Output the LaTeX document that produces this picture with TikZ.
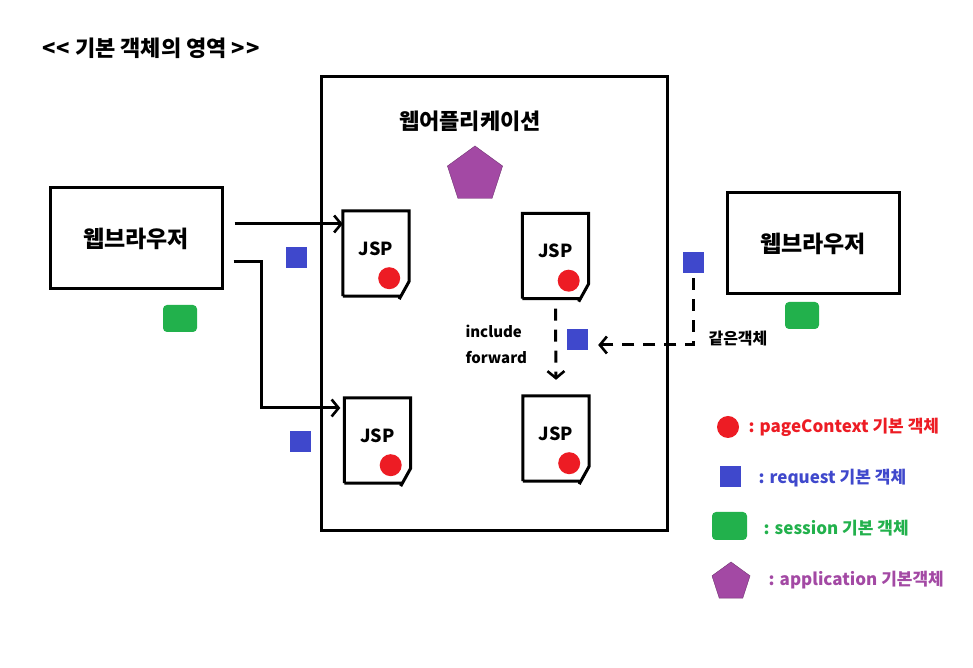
\documentclass[tikz,border=0pt]{standalone}
\usepackage{fontspec}
\setmainfont{Noto Sans CJK KR}
\usetikzlibrary{arrows.meta,shapes.geometric,positioning}
\definecolor{ctxred}{HTML}{ED1C24}
\definecolor{reqblue}{HTML}{3F48CC}
\definecolor{sesgreen}{HTML}{22B14C}
\definecolor{apppurple}{HTML}{A349A4}
\tikzset{
  frame/.style={draw, line width=3pt},
  browser/.style={frame, minimum width=172pt, minimum height=101pt,
    font=\fontsize{23}{26}\selectfont\bfseries},
  jspdoc/.style={minimum width=66pt, minimum height=85pt, inner sep=0pt},
  jsplabel/.style={font=\fontsize{18}{20}\selectfont\bfseries, yshift=5pt},
  reqobj/.style={fill=reqblue, minimum size=21pt, inner sep=0pt},
  sesobj/.style={fill=sesgreen, rounded corners=4pt, minimum width=34pt,
    minimum height=27pt, inner sep=0pt},
  appobj/.style={regular polygon, regular polygon sides=5, fill=apppurple,
    draw=apppurple!70!black, minimum size=58pt, inner sep=0pt},
  ctxobj/.style={circle, fill=ctxred, minimum size=22pt, inner sep=0pt},
  flow/.style={line width=3pt,
    -{Straight Barb[length=7pt,width=17pt,line width=2.6pt]}},
  sameobj/.style={flow, dash pattern=on 12pt off 9pt},
  note/.style={font=\fontsize{15}{18}\selectfont\bfseries},
  legendtext/.style={anchor=west, font=\fontsize{17}{20}\selectfont\bfseries},
}

\begin{document}
\begin{tikzpicture}[x=1pt,y=1pt]
  \useasboundingbox[fill=white] (0,0) rectangle (973,668);

  \node[font=\fontsize{22}{26}\selectfont\bfseries] (title) at (151,620)
    {<\kern1pt< 기본 객체의 영역 >\kern1pt>};

  % web application
  \draw[frame] (321,591) rectangle (667,137);
  \node[font=\fontsize{22}{26}\selectfont\bfseries] (webapp) at (470,547) {웹어플리케이션};
  \node[appobj] (appA) at (475,493) {};

  % browsers
  \node[browser] (brL) at (136,429.5) {웹브라우저};
  \node[browser] (brR) at (813,424.5) {웹브라우저};
  \node[sesobj] (sesL) at (180,349.5) {};
  \node[sesobj] (sesR) at (802,352.5) {};

  % jsp pages
  \node[jspdoc, label={[jsplabel]center:JSP}] (jspA) at (376,414.5) {};
  \node[jspdoc, label={[jsplabel]center:JSP}] (jspB) at (555.5,412) {};
  \node[jspdoc, label={[jsplabel]center:JSP}] (jspC) at (377.5,227.5) {};
  \node[jspdoc, label={[jsplabel]center:JSP}] (jspD) at (556,229.5) {};
  \foreach \d in {jspA,jspB,jspC,jspD} {
    \draw[line width=3pt] (\d.south west) -- (\d.north west) -- (\d.north east)
      -- ([yshift=15pt]\d.south east) -- ([shift={(-10,-3)}]\d.south east)
      ([xshift=-9pt]\d.south east) -- (\d.south west);
    \node[ctxobj] (ctx-\d) at ([shift={(-20,18)}]\d.south east) {};
  }

  % request objects
  \node[reqobj] (reqL) at (296.5,410.5) {};
  \node[reqobj] (reqC) at (300.5,226.5) {};
  \node[reqobj] (reqR) at (693.5,405.5) {};
  \node[reqobj] (reqM) at (577.5,328.5) {};

  % requests
  \coordinate (outA) at ([shift={(11,14.5)}]brL.east);
  \coordinate (outC) at ([shift={(10,-23.5)}]brL.east);
  \draw[flow] (outA) -- (outA -| jspA.west);
  \draw[flow] (outC) -- ++(28,0) |- ([shift={(-4,32.5)}]jspC.west);
  \draw[sameobj] ([yshift=-10pt]jspB.south) -- ([yshift=16pt]jspD.north);
  \draw[sameobj] ([yshift=-5pt]reqR.south) |- ([shift={(10,-5.5)}]reqM.east);

  \node[note, anchor=west] (incl) at (462,337) {include};
  \node[note, anchor=west] (fwd) at (462,310) {forward};
  \node[note, font=\fontsize{16}{18}\selectfont\bfseries, anchor=west] (same) at (705,329) {같은객체};

  % legend
  \node[ctxobj] (keyctx) at (728,241) {};
  \node[legendtext, text=ctxred] (keyctxtext) at (745,241) {: pageContext 기본 객체};
  \node[reqobj] (keyreq) at (730.5,191.5) {};
  \node[legendtext, text=reqblue] (keyreqtext) at (755,190) {: request 기본 객체};
  \node[sesobj, minimum width=35pt, minimum height=28pt] (keyses) at (729.5,142) {};
  \node[legendtext, text=sesgreen] (keysestext) at (760,140) {: session 기본 객체};
  \node[appobj, minimum size=40pt] (keyapp) at (731,86) {};
  \node[legendtext, text=apppurple] (keyapptext) at (765,88) {: application 기본객체};
\end{tikzpicture}
\end{document}
